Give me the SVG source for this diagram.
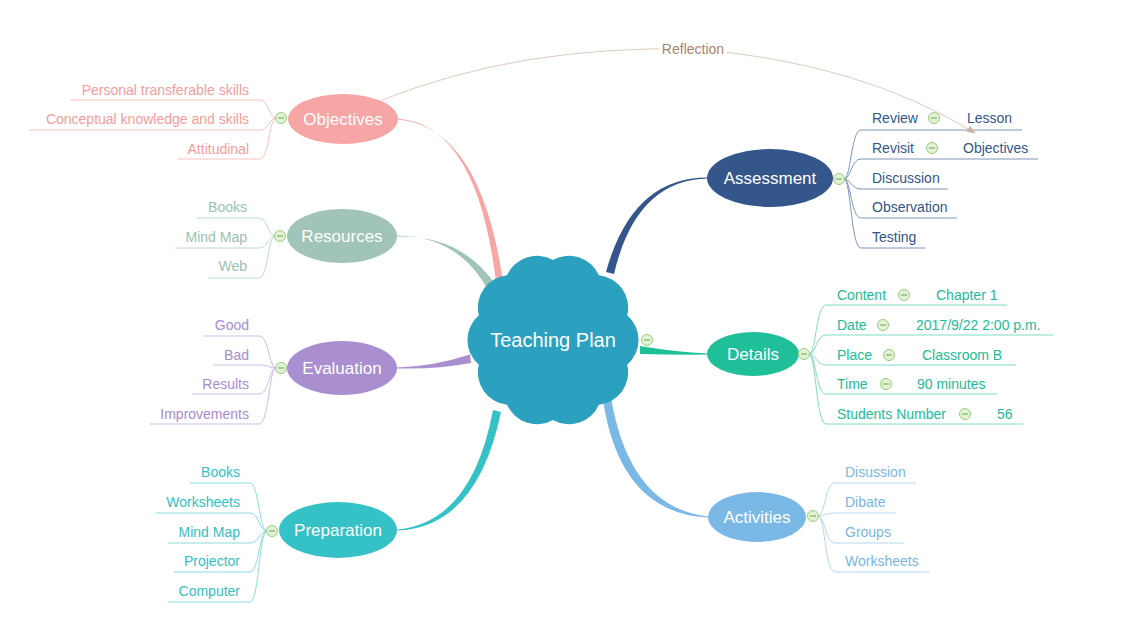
<svg xmlns="http://www.w3.org/2000/svg" width="1140" height="641" viewBox="0 0 1140 641">
<defs>
<style>
text{font-family:"Liberation Sans",Arial,Helvetica,sans-serif;}
.main{font-size:17px;fill:#ffffff;text-anchor:middle;}
.center{font-size:20px;fill:#ffffff;text-anchor:middle;}
.sub{font-size:14px;}
.end{text-anchor:end;}
.ln{fill:none;stroke-width:1;}
.c-obj{fill:#f59c9c;} .l-obj{stroke:#f8c2c2;}
.c-res{fill:#98c2b4;} .l-res{stroke:#bfdad1;}
.c-eva{fill:#a68ccf;} .l-eva{stroke:#cbbce6;}
.c-pre{fill:#33bfc6;} .l-pre{stroke:#8ddcdc;}
.c-ass{fill:#34568a;} .l-ass{stroke:#7f96ba;}
.c-det{fill:#1cbb98;} .l-det{stroke:#80dcc6;}
.c-act{fill:#78b6e6;} .l-act{stroke:#b5d7f2;}
.refl{fill:#a9846f;font-size:14px;text-anchor:middle;}
</style>
<g id="btn">
<circle r="5.5" fill="#e2f2d6" stroke="#9acb7a" stroke-width="1"/>
<line x1="-3" y1="0" x2="3" y2="0" stroke="#86b86a" stroke-width="1.3"/>
</g>
<marker id="arr" viewBox="0 0 10 10" refX="9" refY="5" markerWidth="9" markerHeight="9" markerUnits="userSpaceOnUse" orient="auto">
<path d="M0,1 L10,5 L0,9 Z" fill="#cdb3a3"/>
</marker>
</defs>
<rect width="1140" height="641" fill="#ffffff"/>

<g id="connectors">
<!-- main branches -->
<path d="M397,118.4 Q478,124 496.5,286 L503.5,285 Q481,126 397,119.6 Z" fill="#f7a6a6"/>
<path d="M397,235.4 Q460,236 489,292 L497,287 Q463,235 397,236.6 Z" fill="#a0c4b8"/>
<path d="M397,367.6 Q435,366 470,354.5 L471,363 Q436,369.5 397,368.4 Z" fill="#a98fd0"/>
<path d="M398,529.4 Q472,522 493,410 L501,412 Q477,527 398,530.6 Z" fill="#35c2c6"/>
<path d="M708,177.4 Q632,177 606,272 L614,274 Q636,180 708,178.6 Z" fill="#34568a"/>
<path d="M640,346 Q675,352 708,353.4 L708,354.6 Q675,355 640,354 Z" fill="#1fbf9a"/>
<path d="M603,400 Q620,513 708,517.6 L708,516.4 Q630,508 611,398 Z" fill="#7ab8e6"/>

<!-- Objectives children -->
<path class="ln l-obj" d="M276,118 C269,118 269,100 260,100 L70,100"/>
<path class="ln l-obj" d="M276,118 C269,118 269,130 260,130 L29,130"/>
<path class="ln l-obj" d="M276,118 C269,118 269,159 260,159 L177,159"/>
<!-- Resources children -->
<path class="ln l-res" d="M275,236 C268,236 268,218 259,218 L197,218"/>
<path class="ln l-res" d="M275,236 C268,236 268,248 259,248 L175,248"/>
<path class="ln l-res" d="M275,236 C268,236 268,278 259,278 L208,278"/>
<!-- Evaluation children -->
<path class="ln l-eva" d="M276,368 C269,368 269,336 259,336 L204,336"/>
<path class="ln l-eva" d="M276,368 C269,368 269,365 259,365 L213,365"/>
<path class="ln l-eva" d="M276,368 C269,368 269,394 259,394 L192,394"/>
<path class="ln l-eva" d="M276,368 C269,368 269,424 259,424 L150,424"/>
<!-- Preparation children -->
<path class="ln l-pre" d="M267,531 C259,531 259,483 250,483 L190,483"/>
<path class="ln l-pre" d="M267,531 C259,531 259,513 250,513 L156,513"/>
<path class="ln l-pre" d="M267,531 C259,531 259,543 250,543 L168,543"/>
<path class="ln l-pre" d="M267,531 C259,531 259,572 250,572 L174,572"/>
<path class="ln l-pre" d="M267,531 C259,531 259,602 250,602 L168,602"/>
<!-- Assessment children -->
<path class="ln l-ass" d="M844,179 C851,179 851,130 861,130 L1022,130"/>
<path class="ln l-ass" d="M844,179 C851,179 851,159 861,159 L1038,159"/>
<path class="ln l-ass" d="M844,179 C851,179 851,189 861,189 L948,189"/>
<path class="ln l-ass" d="M844,179 C851,179 851,218 861,218 L957,218"/>
<path class="ln l-ass" d="M844,179 C851,179 851,248 861,248 L925,248"/>
<!-- Details children -->
<path class="ln l-det" d="M809,354 C816,354 816,305 826,305 L1007,305"/>
<path class="ln l-det" d="M809,354 C816,354 816,335 826,335 L1053,335"/>
<path class="ln l-det" d="M809,354 C816,354 816,365 826,365 L1016,365"/>
<path class="ln l-det" d="M809,354 C816,354 816,394 826,394 L997,394"/>
<path class="ln l-det" d="M809,354 C816,354 816,424 826,424 L1023,424"/>
<!-- Activities children -->
<path class="ln l-act" d="M818,516 C825,516 825,483 835,483 L916,483"/>
<path class="ln l-act" d="M818,516 C825,516 825,513 835,513 L896,513"/>
<path class="ln l-act" d="M818,516 C825,516 825,543 835,543 L904,543"/>
<path class="ln l-act" d="M818,516 C825,516 825,572 835,572 L929,572"/>

<!-- Reflection relationship -->
<path d="M382,100 Q520,45 693,49 Q860,62 975,133" fill="none" stroke="#dccbbf" stroke-width="1" marker-end="url(#arr)"/>
<rect x="659" y="40" width="68" height="17" fill="#ffffff"/>
<text class="refl" x="693" y="54">Reflection</text>
</g>

<g id="teaching-plan">
<path d="M627.2,315.3 A32.5,32.5 0 0 1 627.2,364.7 A32.5,32.5 0 0 1 598.9,404.7 A32.5,32.5 0 0 1 553,420 A32.5,32.5 0 0 1 507.1,404.7 A32.5,32.5 0 0 1 478.8,364.7 A32.5,32.5 0 0 1 478.8,315.3 A32.5,32.5 0 0 1 507.1,275.3 A32.5,32.5 0 0 1 553,260 A32.5,32.5 0 0 1 598.9,275.3 A32.5,32.5 0 0 1 627.2,315.3 Z" fill="#2ca1bf"/>
<text class="center" x="553" y="347">Teaching Plan</text>
<use href="#btn" x="647" y="340"/>
</g>

<g id="objectives">
<ellipse cx="343" cy="119" rx="55" ry="25" fill="#f7a6a6"/>
<text class="main" x="343" y="125">Objectives</text>
<use href="#btn" x="281" y="118"/>
<text class="sub end c-obj" x="249" y="95">Personal transferable skills</text>
<text class="sub end c-obj" x="249" y="124">Conceptual knowledge and skills</text>
<text class="sub end c-obj" x="249" y="154">Attitudinal</text>
</g>

<g id="resources">
<ellipse cx="342" cy="236" rx="55" ry="27" fill="#a0c4b8"/>
<text class="main" x="342" y="242">Resources</text>
<use href="#btn" x="280" y="236"/>
<text class="sub end c-res" x="247" y="212">Books</text>
<text class="sub end c-res" x="247" y="242">Mind Map</text>
<text class="sub end c-res" x="247" y="271">Web</text>
</g>

<g id="evaluation">
<ellipse cx="342" cy="368" rx="55" ry="27" fill="#a98fd0"/>
<text class="main" x="342" y="374">Evaluation</text>
<use href="#btn" x="281" y="368"/>
<text class="sub end c-eva" x="249" y="330">Good</text>
<text class="sub end c-eva" x="249" y="360">Bad</text>
<text class="sub end c-eva" x="249" y="389">Results</text>
<text class="sub end c-eva" x="249" y="419">Improvements</text>
</g>

<g id="preparation">
<ellipse cx="338" cy="530" rx="59" ry="28" fill="#35c2c6"/>
<text class="main" x="338" y="536">Preparation</text>
<use href="#btn" x="272" y="531"/>
<text class="sub end c-pre" x="240" y="477">Books</text>
<text class="sub end c-pre" x="240" y="507">Worksheets</text>
<text class="sub end c-pre" x="240" y="537">Mind Map</text>
<text class="sub end c-pre" x="240" y="566">Projector</text>
<text class="sub end c-pre" x="240" y="596">Computer</text>
</g>

<g id="assessment">
<ellipse cx="770" cy="178" rx="63" ry="29" fill="#34568a"/>
<text class="main" x="770" y="184">Assessment</text>
<use href="#btn" x="839" y="179"/>
<text class="sub c-ass" x="872" y="123">Review</text>
<use href="#btn" x="934" y="118"/>
<text class="sub c-ass" x="967" y="123">Lesson</text>
<text class="sub c-ass" x="872" y="153">Revisit</text>
<use href="#btn" x="932" y="148"/>
<text class="sub c-ass" x="963" y="153">Objectives</text>
<text class="sub c-ass" x="872" y="183">Discussion</text>
<text class="sub c-ass" x="872" y="212">Observation</text>
<text class="sub c-ass" x="872" y="242">Testing</text>
</g>

<g id="details">
<ellipse cx="753" cy="354" rx="46" ry="22" fill="#1fbf9a"/>
<text class="main" x="753" y="360">Details</text>
<use href="#btn" x="804" y="354"/>
<text class="sub c-det" x="837" y="300">Content</text>
<use href="#btn" x="904" y="295"/>
<text class="sub c-det" x="936" y="300">Chapter 1</text>
<text class="sub c-det" x="837" y="330">Date</text>
<use href="#btn" x="883" y="325"/>
<text class="sub c-det" x="916" y="330">2017/9/22 2:00 p.m.</text>
<text class="sub c-det" x="837" y="360">Place</text>
<use href="#btn" x="889" y="355"/>
<text class="sub c-det" x="922" y="360">Classroom B</text>
<text class="sub c-det" x="837" y="389">Time</text>
<use href="#btn" x="886" y="384"/>
<text class="sub c-det" x="917" y="389">90 minutes</text>
<text class="sub c-det" x="837" y="419">Students Number</text>
<use href="#btn" x="965" y="414"/>
<text class="sub c-det" x="997" y="419">56</text>
</g>

<g id="activities">
<ellipse cx="757" cy="517" rx="49" ry="25" fill="#7ab8e6"/>
<text class="main" x="757" y="523">Activities</text>
<use href="#btn" x="813" y="516"/>
<text class="sub c-act" x="845" y="477">Disussion</text>
<text class="sub c-act" x="845" y="507">Dibate</text>
<text class="sub c-act" x="845" y="537">Groups</text>
<text class="sub c-act" x="845" y="566">Worksheets</text>
</g>
</svg>
